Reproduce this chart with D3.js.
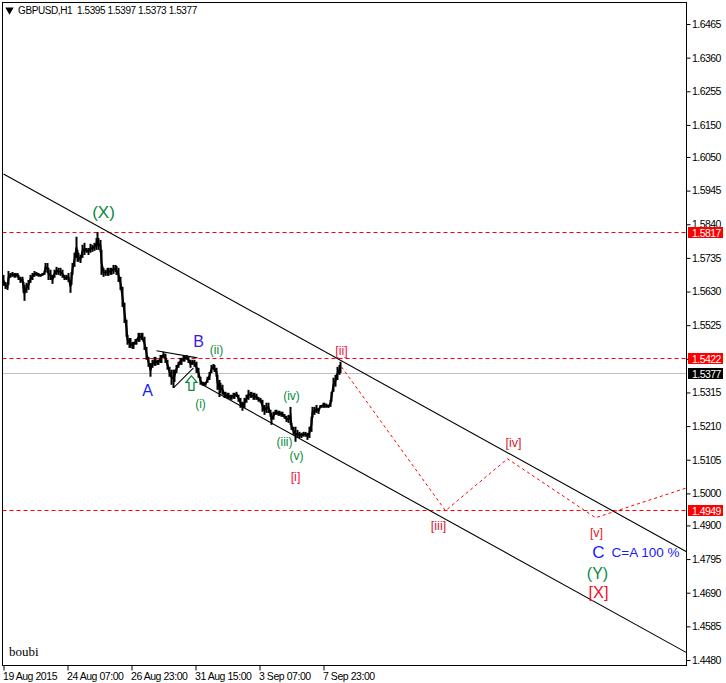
<!DOCTYPE html>
<html><head><meta charset="utf-8">
<script src="https://cdn.jsdelivr.net/npm/d3@7/dist/d3.min.js"></script>
<style>
html,body{margin:0;padding:0;background:#fff}
svg{display:block}
text{font-family:"Liberation Sans",Arial,sans-serif}
</style></head><body>
<svg id="c" width="726" height="683"></svg>
<script>
const bars=[0,2,4,5,7,9,11,14,15,17,19,20,21,23,25,27,29,31,33,35,37,39,41,42,44,45,47,49,51,53,55,57,59,61,63,65,67,68,69,71,
73,74,75,77,79,81,83,85,87,89,91,93,94,95,97,98,100,102,104,107,110,112,113,115,117,119,121,123,124,126,129,132,135,138,141,143,145,147,149,151,
154,157,160,162,164,166,168,170,171,173,175,177,180,183,185,187,189,191,193,195,197,199,202,204,206,208,210,211,213,214,216,217,219,221,224,227,230,233,235,237,
239,241,243,245,247,250,253,255,257,259,261,263,265,267,268,270,272,275,278,281,283,285,287,288,290,292,294,296,298,300,302,304,306,308,309,311,313,315,317,320,
323,325,327,328,330,332,334,336,337];
const highs=[1.5682,1.5660,1.5657,1.5694,1.5688,1.5691,1.5688,1.5688,1.5682,1.5676,1.5676,1.5660,1.5651,1.5657,1.5666,1.5682,1.5688,1.5694,1.5691,1.5688,1.5685,1.5688,1.5694,1.5719,1.5719,1.5704,1.5698,1.5682,1.5698,1.5707,1.5704,1.5704,1.5698,1.5682,1.5682,1.5688,1.5666,1.5691,1.5719,1.5751,
1.5801,1.5760,1.5751,1.5744,1.5776,1.5782,1.5766,1.5766,1.5779,1.5776,1.5782,1.5797,1.5816,1.5797,1.5791,1.5760,1.5704,1.5698,1.5704,1.5704,1.5713,1.5713,1.5710,1.5704,1.5676,1.5645,1.5595,1.5542,1.5495,1.5485,1.5473,1.5482,1.5501,1.5501,1.5489,1.5457,1.5426,1.5407,1.5417,1.5426,
1.5417,1.5432,1.5442,1.5436,1.5417,1.5395,1.5386,1.5386,1.5386,1.5401,1.5411,1.5423,1.5429,1.5432,1.5426,1.5417,1.5417,1.5417,1.5411,1.5392,1.5364,1.5348,1.5348,1.5364,1.5379,1.5401,1.5404,1.5401,1.5392,1.5370,1.5354,1.5345,1.5339,1.5317,1.5314,1.5308,1.5314,1.5317,1.5308,1.5298,
1.5286,1.5298,1.5308,1.5323,1.5317,1.5314,1.5311,1.5301,1.5298,1.5292,1.5276,1.5283,1.5283,1.5261,1.5251,1.5255,1.5261,1.5258,1.5255,1.5248,1.5242,1.5245,1.5270,1.5220,1.5208,1.5208,1.5198,1.5192,1.5189,1.5192,1.5192,1.5189,1.5208,1.5239,1.5270,1.5270,1.5276,1.5267,1.5276,1.5283,
1.5280,1.5276,1.5292,1.5317,1.5361,1.5370,1.5395,1.5401,1.5411];
const lows=[1.5648,1.5638,1.5635,1.5651,1.5673,1.5676,1.5673,1.5676,1.5666,1.5657,1.5657,1.5626,1.5601,1.5626,1.5635,1.5657,1.5666,1.5676,1.5679,1.5676,1.5676,1.5679,1.5682,1.5691,1.5688,1.5666,1.5666,1.5654,1.5673,1.5682,1.5682,1.5679,1.5673,1.5666,1.5666,1.5660,1.5626,1.5651,1.5682,1.5707,
1.5735,1.5723,1.5723,1.5719,1.5735,1.5744,1.5751,1.5744,1.5751,1.5754,1.5757,1.5760,1.5772,1.5760,1.5754,1.5682,1.5676,1.5679,1.5679,1.5682,1.5685,1.5691,1.5682,1.5660,1.5635,1.5582,1.5532,1.5489,1.5464,1.5454,1.5451,1.5464,1.5473,1.5479,1.5448,1.5417,1.5395,1.5364,1.5392,1.5398,
1.5401,1.5407,1.5423,1.5407,1.5386,1.5364,1.5339,1.5329,1.5348,1.5376,1.5392,1.5401,1.5411,1.5417,1.5407,1.5392,1.5401,1.5395,1.5376,1.5361,1.5339,1.5336,1.5336,1.5345,1.5354,1.5376,1.5386,1.5379,1.5364,1.5323,1.5301,1.5314,1.5308,1.5298,1.5295,1.5292,1.5295,1.5301,1.5286,1.5267,
1.5258,1.5267,1.5283,1.5292,1.5298,1.5292,1.5292,1.5286,1.5283,1.5255,1.5245,1.5251,1.5251,1.5239,1.5214,1.5230,1.5245,1.5242,1.5239,1.5233,1.5223,1.5220,1.5214,1.5198,1.5183,1.5161,1.5173,1.5173,1.5173,1.5177,1.5177,1.5167,1.5173,1.5192,1.5236,1.5245,1.5251,1.5248,1.5267,1.5267,
1.5267,1.5267,1.5270,1.5286,1.5317,1.5333,1.5354,1.5370,1.5376];
const lastClose=1.5377;

const priceTicks=[1.6465,1.6360,1.6255,1.6150,1.6050,1.5945,1.5840,1.5735,1.5630,1.5525,1.5420,1.5315,1.5210,1.5105,1.5000,1.4900,1.4795,1.4690,1.4585,1.4480];
const timeTickBars=[0,64,128,192,256,320];
const timeTickLabels=["19 Aug 2015","24 Aug 07:00","26 Aug 23:00","31 Aug 15:00","3 Sep 07:00","7 Sep 23:00"];

const levelPrices=[1.5817,1.5422,1.4949];
const upperChannelBars=[0,683], upperChannelPrices=[1.5997,1.4818];
const lowerChannelBars=[199,683], lowerChannelPrices=[1.5339,1.4503];
const triTopBars=[153,194], triTopPrices=[1.5445,1.5423];
const triBottomBars=[170,190], triBottomPrices=[1.5329,1.5392];
const forecastBars=[338,442,504,592,683];
const forecastPrices=[1.5395,1.4946,1.5108,1.4924,1.5017];

const labelTexts=["(X)","A","B","(ii)","(i)","(iv)","(iii)","(v)","[i]","[ii]","[iii]","[iv]","[v]","C","C=A 100 %","(Y)","[X]"];
const labelBars=[100,144,195,213,197,288,281,293,292,338,435,510,593,595,642,594,595];
const labelPrices=[1.5878,1.5320,1.5473,1.5448,1.5280,1.5304,1.5161,1.5118,1.5052,1.5445,1.4899,1.5158,1.4877,1.4815,1.4815,1.4749,1.4691];
const labelColors=["#078a3c","#1a1aff","#3a1ae0","#078a3c","#078a3c","#078a3c","#078a3c","#078a3c","#f0103c","#f0103c","#d8202c","#d8202c","#e8202c","#1a1aff","#1a1aff","#078a3c","#f0102c"];
const labelSizes=[17,16,16,12,12,12,12,12,12.5,12.5,12.5,12.5,12.5,17,13.5,16,16.5];

const W=726,H=683,L=2.5,T=2.5,R=686.5,B=665.5;
const x=d3.scaleLinear().domain([0,320]).range([3.5,323.5]);
const y=d3.scaleLinear().domain([1.6465,1.4480]).range([24,660]);
const svg=d3.select("#c");

// price level lines
svg.append("line").attr("x1",L).attr("x2",R).attr("y1",Math.round(y(lastClose))+.5).attr("y2",Math.round(y(lastClose))+.5).attr("stroke","#c4bcc4");
svg.selectAll(".lvl").data(levelPrices).join("line").attr("class","lvl")
  .attr("x1",L).attr("x2",R).attr("y1",d=>Math.round(y(d))+.5).attr("y2",d=>Math.round(y(d))+.5)
  .style("stroke","#ff0000").style("stroke-width",1).style("stroke-dasharray","4 3");

// price bars
svg.append("g").selectAll("rect").data(bars).join("rect")
  .attr("x",(d,i)=>x(d)-1)
  .attr("width",(d,i)=>i<bars.length-1?Math.max(2,x(bars[i+1])-x(d)):2)
  .attr("y",(d,i)=>y(highs[i]))
  .attr("height",(d,i)=>y(lows[i])-y(highs[i]))
  .attr("fill","#000");
svg.append("path").datum(bars).attr("fill","none").attr("stroke","#000").attr("stroke-width",2)
  .attr("d",d3.line().x(d=>x(d)).y((d,i)=>y((highs[i]+lows[i])/2)));

// trend lines
const lineGen=d3.line().x(d=>x(d[0])).y(d=>y(d[1]));
const pairs=(a,b)=>a.map((v,i)=>[v,b[i]]);
[[upperChannelBars,upperChannelPrices],[lowerChannelBars,lowerChannelPrices],[triTopBars,triTopPrices],[triBottomBars,triBottomPrices]]
 .forEach(([a,b])=>svg.append("path").attr("d",lineGen(pairs(a,b))).attr("fill","none").attr("stroke","#000").attr("stroke-width",1.1));
svg.append("path").attr("d",lineGen(pairs(forecastBars,forecastPrices))).attr("fill","none")
  .attr("stroke","#ff0000").attr("stroke-width",1).attr("stroke-dasharray","3 3");

// green up arrow
const ax=x(188), ay=y(1.5367);
svg.append("path").attr("transform",`translate(${ax},${ay})`)
  .attr("d","M0,0 L5.5,6.5 L2.5,6.5 L2.5,14.5 L-2.5,14.5 L-2.5,6.5 L-5.5,6.5 Z")
  .attr("fill","#fff").attr("stroke","#0a8a3c").attr("stroke-width",1.3);

// labels
svg.selectAll(".lab").data(labelTexts).join("text").attr("class","lab")
  .attr("x",(d,i)=>x(labelBars[i])).attr("y",(d,i)=>y(labelPrices[i]))
  .attr("text-anchor","middle").attr("dominant-baseline","central")
  .attr("font-size",(d,i)=>labelSizes[i]).attr("fill",(d,i)=>labelColors[i])
  .text(d=>d);

// frame
svg.append("rect").attr("x",L).attr("y",T).attr("width",R-L).attr("height",B-T).attr("fill","none").attr("stroke","#000");

// axes
const yAxis=d3.axisRight(y).tickValues(priceTicks).tickSize(4).tickFormat(d3.format(".4f"));
const gy=svg.append("g").attr("transform",`translate(${R},0)`).call(yAxis);
gy.select(".domain").remove();
gy.selectAll("text").attr("x",5.5).attr("font-size",10.5).attr("letter-spacing","-0.55").style("font-family",'"Liberation Sans"').attr("fill","#000");
const xAxis=d3.axisBottom(x).tickValues(timeTickBars).tickSize(5).tickFormat((d,i)=>timeTickLabels[i]);
const gx=svg.append("g").attr("transform",`translate(0,${B})`).call(xAxis);
gx.select(".domain").remove();
gx.selectAll("text").attr("text-anchor","start").attr("x",-1).attr("y",7).attr("dy","0.71em").attr("font-size",10.5).attr("letter-spacing","-0.45").attr("fill","#000");

// price tags
const tagPrices=[1.5817,1.5422,1.4949,1.5377];
const tagColors=["#ff0000","#ff0000","#ff0000","#000000"];
const tags=svg.append("g").selectAll("g").data(tagPrices).join("g")
  .attr("transform",d=>`translate(688,${Math.round(y(d))+.5})`);
tags.append("rect").attr("x",0).attr("y",-5.5).attr("width",35).attr("height",11).attr("fill",(d,i)=>tagColors[i]);
tags.append("text").attr("x",4).attr("y",4).attr("font-size",10.5).attr("letter-spacing","-0.55").attr("fill","#fff").text(d=>d.toFixed(4));

// header
svg.append("path").attr("d",d3.symbol(d3.symbolTriangle,30)()).attr("transform","translate(9.5,10) rotate(180)").attr("fill","#000");
svg.append("text").attr("x",18).attr("y",14).attr("font-size",10).attr("letter-spacing","-0.4").style("white-space","pre").attr("fill","#000").text("GBPUSD,H1  1.5395 1.5397 1.5373 1.5377");
svg.append("text").attr("x",9).attr("y",656).attr("font-size",13).style("font-family",'"Liberation Serif",serif').attr("fill","#000").text("boubi");
</script>
</body></html>
